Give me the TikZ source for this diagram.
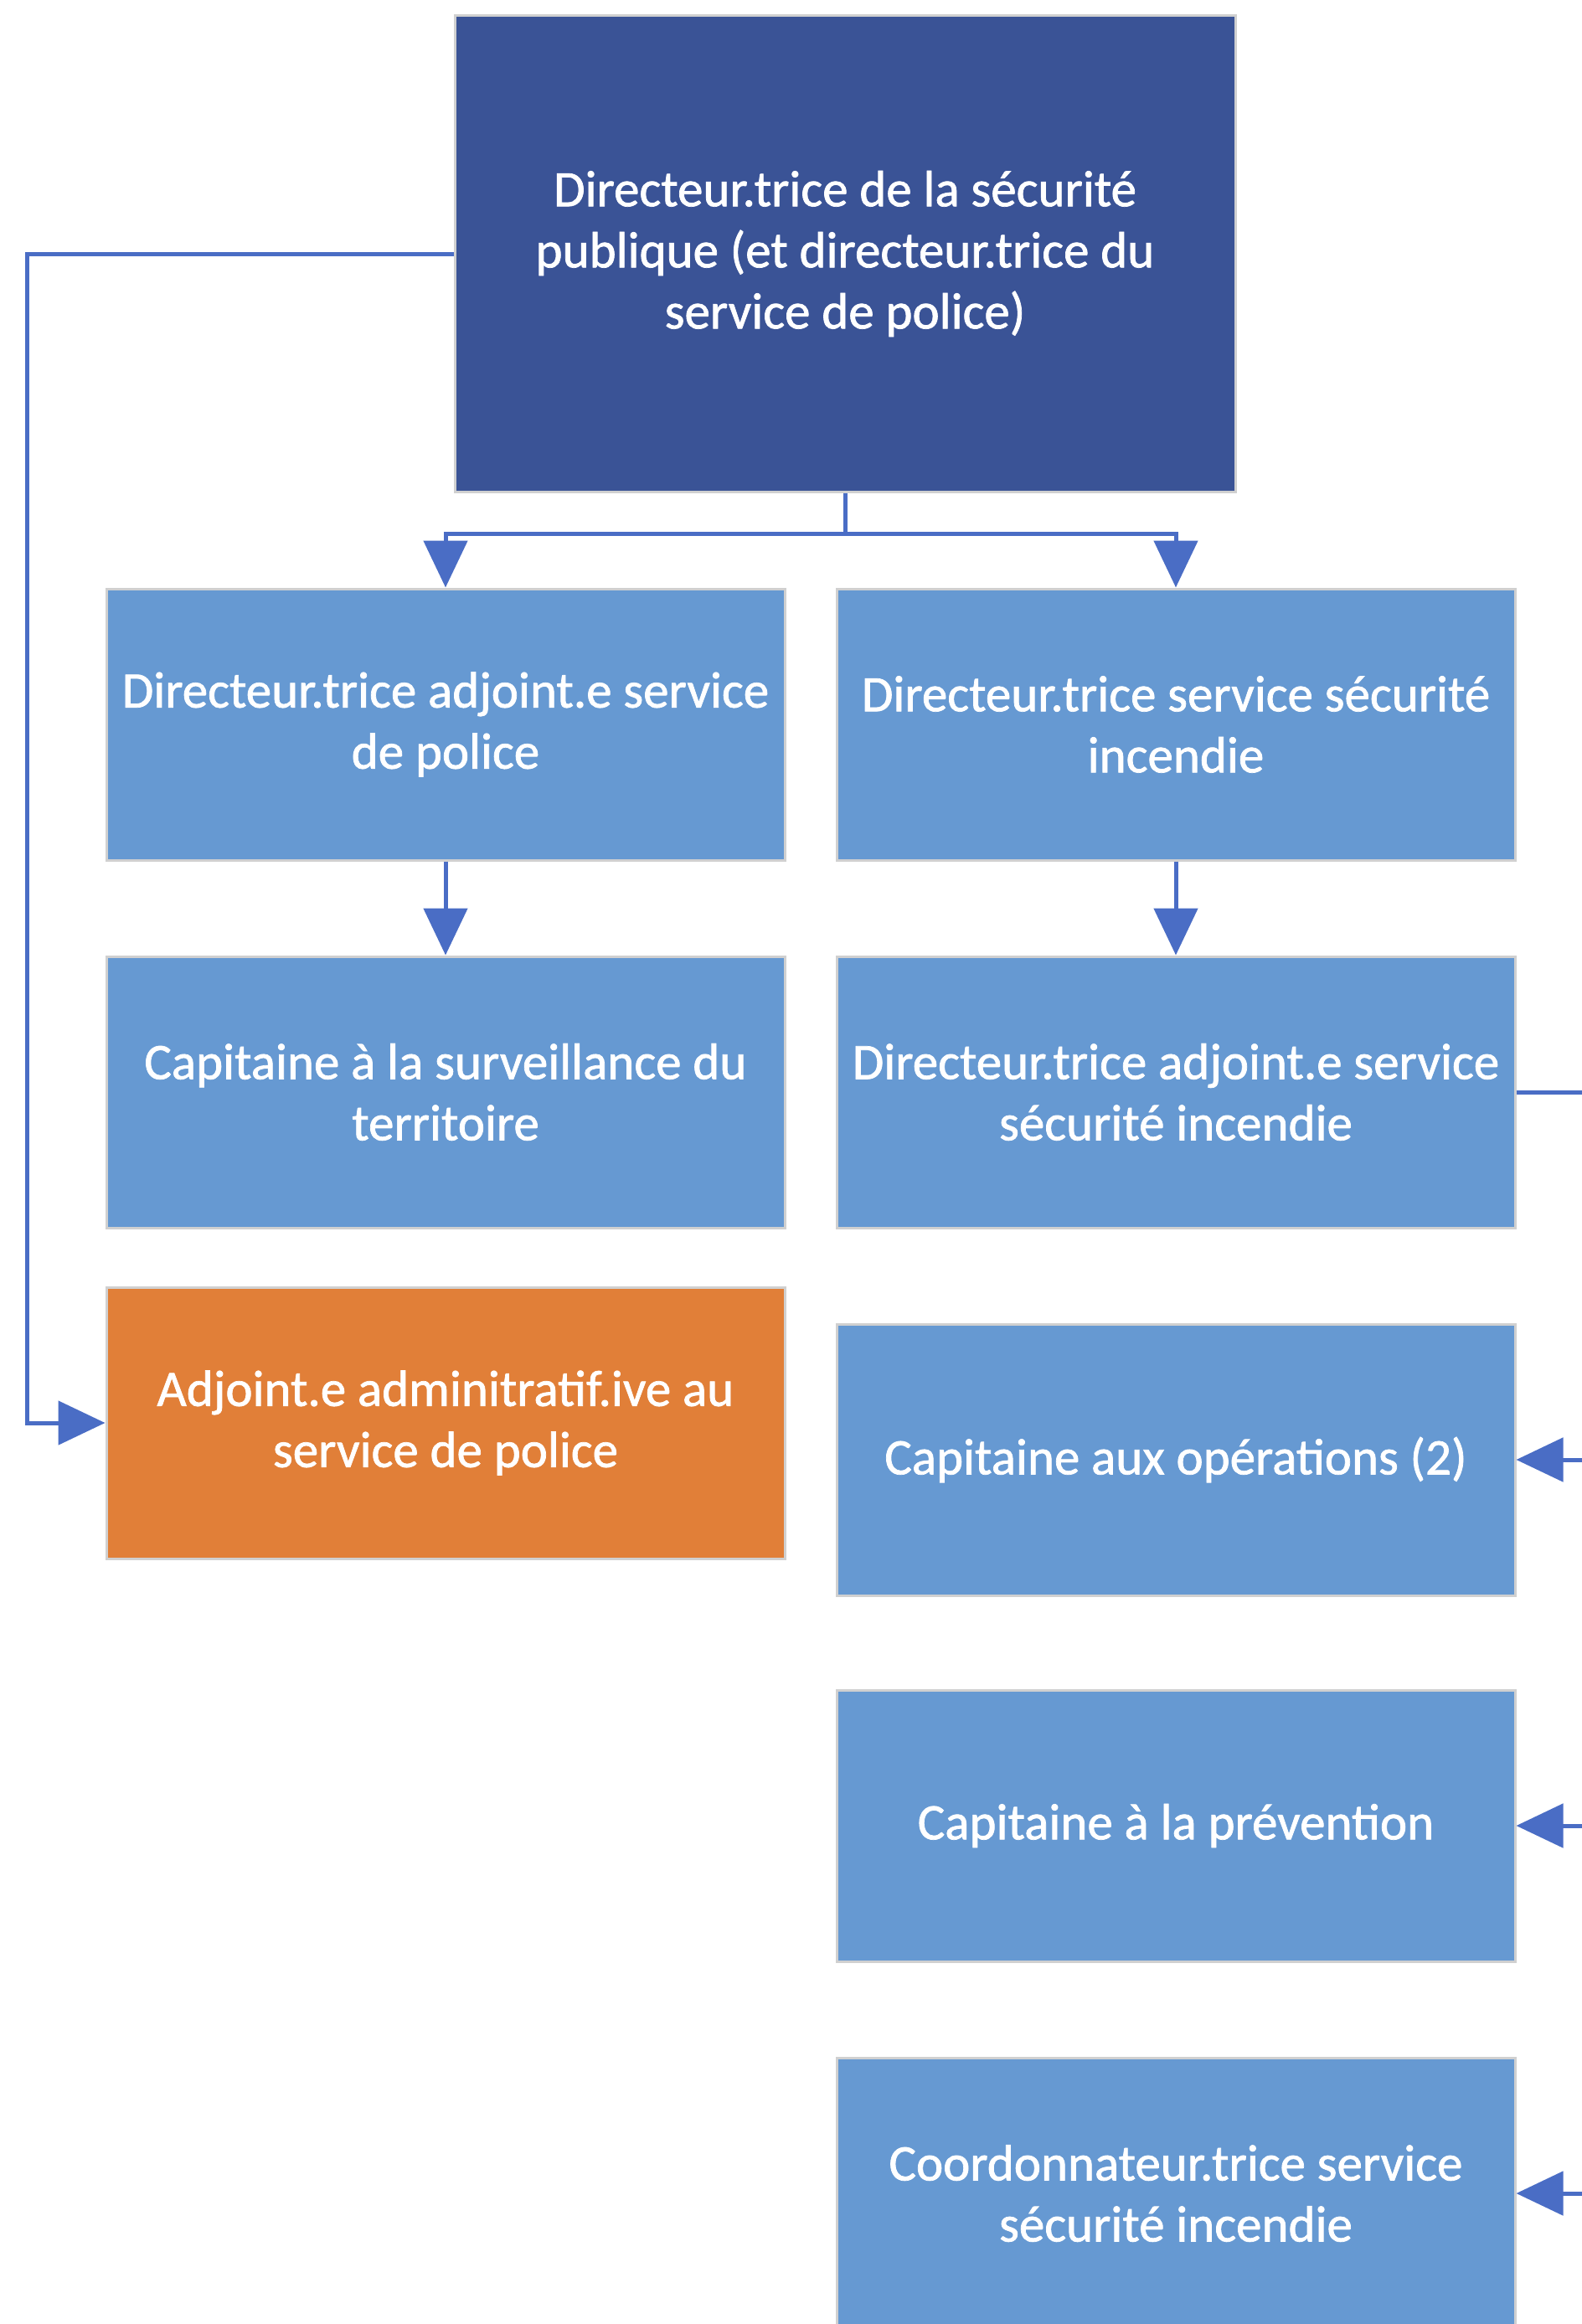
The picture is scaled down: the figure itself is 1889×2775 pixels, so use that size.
\documentclass[tikz,border=0pt]{standalone}
\usepackage{fontspec}
\setmainfont{Carlito}
\newfontfamily\boxfont[FakeBold=1.2]{Carlito}
\usetikzlibrary{arrows.meta}
\definecolor{darkbox}{HTML}{3A5396}
\definecolor{lightbox}{HTML}{6699D2}
\definecolor{orangebox}{HTML}{E17F38}
\definecolor{conn}{HTML}{4A6DC5}
\definecolor{edgegray}{HTML}{D0D0D0}
\tikzset{
  orgbox/.style={draw=edgegray, line width=3pt, fill=lightbox, text=white, align=center,
     minimum width=810pt, minimum height=324pt, inner sep=0pt,
     font=\boxfont\fontsize{61}{73}\selectfont},
  link/.style={draw=conn, line width=5pt, -{Triangle[length=56pt,width=52pt]}},
  plainlink/.style={draw=conn, line width=5pt},
}
\begin{document}
\begin{tikzpicture}[x=1pt,y=-1pt]
\useasboundingbox (0,0) rectangle (1889,2775);
\clip (0,0) rectangle (1889,2775);
\fill[white] (0,0) rectangle (1889,2775);
\node[orgbox, fill=darkbox, minimum width=932pt, minimum height=569pt] (top) at (1009,303)
  {Directeur.trice de la sécurité\\publique (et directeur.trice du\\service de police)};
\node[orgbox] (l1) at (532,865) {Directeur.trice adjoint.e service\\de police};
\node[orgbox] (r1) at (1404,865) {Directeur.trice service sécurité\\incendie};
\node[orgbox] (l2) at (532,1304) {Capitaine à la surveillance du\\territoire};
\node[orgbox] (r2) at (1404,1304) {Directeur.trice adjoint.e service\\sécurité incendie};
\node[orgbox, fill=orangebox] (l3) at (532,1699) {Adjoint.e adminitratif.ive au\\service de police};
\node[orgbox] (r3) at (1404,1743) {Capitaine aux opérations (2)};
\node[orgbox] (r4) at (1404,2180) {Capitaine à la prévention};
\node[orgbox] (r5) at (1404,2619) {Coordonnateur.trice service\\sécurité incendie};
% connectors
\coordinate (split) at (1009,637);
\draw[plainlink] (top.south) -- (split);
\draw[link] (split) -| (l1.north);
\draw[link] (split) -| (r1.north);
\draw[link] (l1.south) -- (l2.north);
\draw[link] (r1.south) -- (r2.north);
\coordinate (lbend) at (32,303);
\draw[link] (top.west) -- (lbend) |- (l3.west);
\coordinate (redge2) at (1889,1304);
\coordinate (redge3) at (1889,1743);
\coordinate (redge4) at (1889,2180);
\coordinate (redge5) at (1889,2619);
\draw[plainlink] (r2.east) -- (redge2);
\draw[link] (redge3) -- (r3.east);
\draw[link] (redge4) -- (r4.east);
\draw[link] (redge5) -- (r5.east);
\end{tikzpicture}
\end{document}
